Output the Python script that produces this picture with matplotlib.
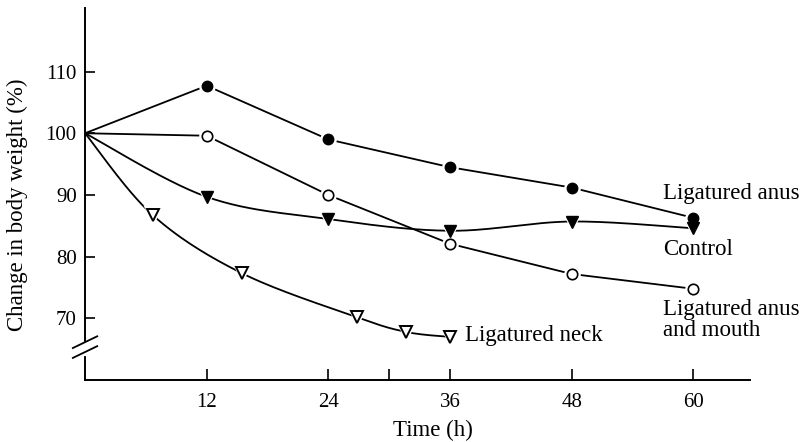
import matplotlib
matplotlib.use("Agg")
import matplotlib.pyplot as plt
import numpy as np

plt.rcParams["font.family"] = ["Liberation Serif", "DejaVu Serif"]

# values (time in h, weight change in %)
time_anus = [0, 12, 24, 36, 48, 60]
anus = [100, 107.7, 99.0, 94.5, 91.2, 86.3]

time_anus_mouth = [0, 12, 24, 36, 48, 60]
anus_mouth = [100, 99.6, 90.0, 82.1, 77.2, 74.8]

time_control = [0, 12, 24, 36, 48, 60]
control = [100, 89.7, 86.1, 84.2, 85.7, 84.6]

time_neck = [0, 6.7, 15.5, 26.8, 31.7, 36]
neck = [100, 86.7, 77.3, 70.2, 67.8, 67.0]

x_ticks = [12, 24, 36, 48, 60]
y_ticks = [70, 80, 90, 100, 110]


def smooth(xs, ys, n=30):
    """Catmull-Rom curve through the points, for drawing only."""
    p = np.column_stack([xs, ys]).astype(float)
    p = np.vstack([p[0], p, p[-1]])
    out = []
    t = np.linspace(0, 1, n)[:, None]
    for i in range(1, len(p) - 2):
        p0, p1, p2, p3 = p[i - 1], p[i], p[i + 1], p[i + 2]
        seg = 0.5 * ((2 * p1) + (-p0 + p2) * t
                     + (2 * p0 - 5 * p1 + 4 * p2 - p3) * t ** 2
                     + (-p0 + 3 * p1 - 3 * p2 + p3) * t ** 3)
        out.append(seg)
    c = np.vstack(out)
    return c[:, 0], c[:, 1]


fig = plt.figure(figsize=(8.06, 4.42), dpi=100)
ax = fig.add_axes([0.1055, 0.140, 0.825, 0.842])

lw = 1.3
ax.plot(time_anus, anus, color="black", lw=lw, zorder=2)
ax.plot(time_anus_mouth, anus_mouth, color="black", lw=lw, zorder=2)
cx, cy = smooth(time_control, control)
ax.plot(cx, cy, color="black", lw=lw, zorder=2)
nx, ny = smooth(time_neck, neck)
ax.plot(nx, ny, color="black", lw=lw, zorder=2)

# white halos give the small gaps round the markers
for xs, ys, m, s in [(time_anus[1:], anus[1:], "o", 12),
                     (time_anus_mouth[1:], anus_mouth[1:], "o", 12),
                     (time_control[1:], control[1:], "v", 15),
                     (time_neck[1:], neck[1:], "v", 15)]:
    ax.plot(xs, ys, ls="none", marker=m, ms=s, mfc="white", mec="none", zorder=3)

ax.plot(time_control[1:], control[1:], ls="none", marker="v", ms=8,
        mfc="black", mec="black", zorder=4)
ax.plot(time_anus[1:], anus[1:], ls="none", marker="o", ms=7.5,
        mfc="black", mec="black", zorder=5)
ax.plot(time_anus_mouth[1:], anus_mouth[1:], ls="none", marker="o", ms=7.5,
        mfc="white", mec="black", mew=1.2, zorder=5)
ax.plot(time_neck[1:], neck[1:], ls="none", marker="v", ms=8.5,
        mfc="white", mec="black", mew=1.4, zorder=5)

ax.set_xlim(0, 65.6)
ax.set_ylim(60, 120.3)
ax.spines["top"].set_visible(False)
ax.spines["right"].set_visible(False)
for sp in ("left", "bottom"):
    ax.spines[sp].set_linewidth(1.4)

ax.set_xticks(x_ticks + [30])
ax.set_xticklabels([str(v) for v in x_ticks] + [""])
ax.set_yticks(y_ticks)
ax.set_yticklabels([str(v) for v in y_ticks])
ax.tick_params(axis="x", direction="in", length=8, width=1.2, labelsize=15, pad=9)
ax.tick_params(axis="y", direction="in", length=7, width=1.2, labelsize=15, pad=6)

ax.set_xlabel("Time (h)", fontsize=16.5)
ax.xaxis.set_label_coords(0.523, -0.134)
ax.xaxis.label.set_va("center")
ax.set_ylabel("Change in body weight (%)", fontsize=16.5)
ax.yaxis.set_label_coords(-0.102, 0.47)
ax.yaxis.label.set_va("center")

# axis break on the y axis
ax.plot([0, 0], [64.2, 65.8], color="white", lw=3, clip_on=False, zorder=6)
for y0 in (63.6, 65.2):
    ax.plot([-1.2, 1.2], [y0, y0 + 1.9], color="black", lw=1.3,
            clip_on=False, zorder=7)

ax.text(57.0, 90.3, "Ligatured anus", fontsize=16.5, va="center", ha="left")
ax.text(57.0, 81.1, "Control", fontsize=16.5, va="center", ha="left")
ax.text(57.0, 69.7, "Ligatured anus\nand mouth", fontsize=16.5, va="center",
        ha="left", linespacing=1.0)
ax.text(37.5, 67.3, "Ligatured neck", fontsize=16.5, va="center", ha="left")

fig.savefig("out.png", dpi=100)
plt.close(fig)
